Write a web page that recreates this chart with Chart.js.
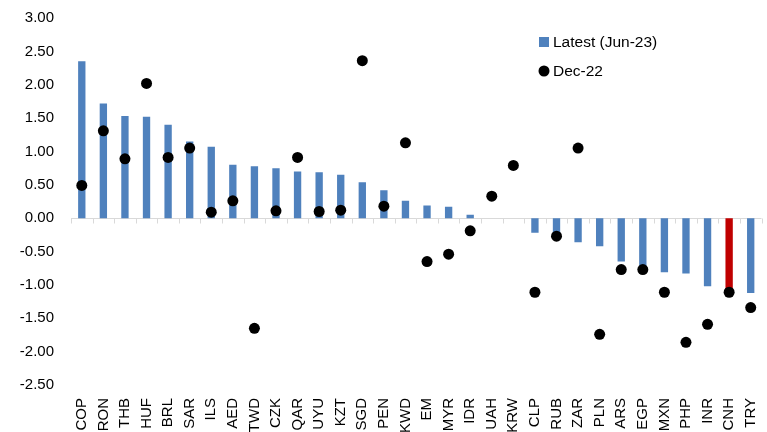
<!DOCTYPE html>
<html>
<head>
<meta charset="utf-8">
<script src="https://cdn.jsdelivr.net/npm/chart.js@4/dist/chart.umd.min.js"></script>
<style>
  html, body { margin: 0; padding: 0; background: #ffffff; }
  #wrap { width: 767px; height: 432px; position: relative; }
</style>
</head>
<body>
<div id="wrap"><canvas id="chart"></canvas></div>
<script>
// Currencies, ordered by the latest reading
const categories = ['COP', 'RON', 'THB', 'HUF', 'BRL', 'SAR', 'ILS', 'AED', 'TWD', 'CZK', 'QAR', 'UYU', 'KZT', 'SGD', 'PEN', 'KWD',
  'EM', 'MYR', 'IDR', 'UAH', 'KRW', 'CLP', 'RUB', 'ZAR', 'PLN', 'ARS', 'EGP', 'MXN', 'PHP', 'INR', 'CNH', 'TRY'];

// Latest (Jun-23)
const latest = [2.35, 1.72, 1.53, 1.52, 1.40, 1.15, 1.07, 0.80, 0.78, 0.75, 0.70, 0.69, 0.65, 0.54, 0.42, 0.26,
  0.19, 0.17, 0.05, 0.00, 0.00, -0.22, -0.24, -0.36, -0.42, -0.65, -0.72, -0.81, -0.83, -1.02, -1.06, -1.12];

// Dec-22
const dec22 = [0.49, 1.31, 0.89, 2.02, 0.91, 1.05, 0.09, 0.26, -1.65, 0.11, 0.91, 0.10, 0.12, 2.36, 0.18, 1.13,
  -0.65, -0.54, -0.19, 0.33, 0.79, -1.11, -0.27, 1.05, -1.74, -0.77, -0.77, -1.11, -1.86, -1.59, -1.11, -1.34];

const seriesNames = ['Latest (Jun-23)', 'Dec-22'];
const yTicks = { min: -2.5, max: 3.0, step: 0.5 };
const highlighted = 'CNH';

const BLUE = '#4f81bd';
const RED = '#c00000';
const FONT = "'Liberation Sans', Arial, sans-serif";

// Zero line with small tick marks between the categories
const zeroAxis = {
  id: 'zeroAxis',
  beforeDatasetsDraw(chart) {
    const { ctx, chartArea, scales: { x, y } } = chart;
    const y0 = Math.round(y.getPixelForValue(0)) + 0.5;
    const step = x.getPixelForValue(1) - x.getPixelForValue(0);
    ctx.save();
    ctx.strokeStyle = '#d9d9d9';
    ctx.lineWidth = 1;
    ctx.beginPath();
    ctx.moveTo(chartArea.left, y0);
    ctx.lineTo(chartArea.right, y0);
    for (let i = 0; i <= categories.length; i++) {
      const bx = Math.round(x.getPixelForValue(0) - step / 2 + i * step) + 0.5;
      ctx.moveTo(bx, y0);
      ctx.lineTo(bx, y0 + 5);
    }
    ctx.stroke();
    ctx.restore();
  }
};

// Legend drawn inside the plot, top right
const innerLegend = {
  id: 'innerLegend',
  afterDraw(chart) {
    const { ctx } = chart;
    const ds = chart.data.datasets;
    ctx.save();
    ctx.font = '15.5px ' + FONT;
    ctx.textBaseline = 'middle';
    ctx.fillStyle = BLUE;
    ctx.fillRect(539, 37, 10, 10);
    ctx.fillStyle = '#000';
    ctx.fillText(ds[0].label, 553, 43);
    ctx.beginPath();
    ctx.arc(544, 71, 5.5, 0, Math.PI * 2);
    ctx.fill();
    ctx.fillText(ds[1].label, 553, 72);
    ctx.restore();
  }
};

new Chart(document.getElementById('chart'), {
  type: 'bar',
  data: {
    labels: categories,
    datasets: [
      {
        label: seriesNames[0],
        data: latest,
        backgroundColor: categories.map(c => c === highlighted ? RED : BLUE),
        categoryPercentage: 1.0,
        barPercentage: 0.34,
        order: 2
      },
      {
        type: 'line',
        label: seriesNames[1],
        data: dec22,
        showLine: false,
        pointRadius: 5.5,
        pointHoverRadius: 5.5,
        pointBackgroundColor: '#000',
        pointBorderWidth: 0,
        borderColor: '#000',
        backgroundColor: '#000',
        order: 1
      }
    ]
  },
  options: {
    responsive: true,
    maintainAspectRatio: false,
    animation: false,
    layout: { padding: { top: 18, left: 20, right: 0, bottom: 0 } },
    plugins: {
      legend: { display: false },
      tooltip: { enabled: false }
    },
    scales: {
      x: {
        grid: { display: false, drawTicks: false },
        border: { display: false },
        ticks: {
          color: '#000',
          font: { family: FONT, size: 15 },
          minRotation: 90,
          maxRotation: 90,
          padding: 13,
          autoSkip: false
        },
        afterFit(scale) {
          scale.height = 47;
          scale.paddingLeft = 0;
          scale.paddingRight = 0;
        }
      },
      y: {
        min: yTicks.min,
        max: yTicks.max,
        grid: { display: false, drawTicks: false },
        border: { display: false },
        ticks: {
          stepSize: yTicks.step,
          color: '#000',
          font: { family: FONT, size: 15 },
          padding: 17,
          callback: v => Number(v).toFixed(2)
        },
        afterFit(scale) {
          scale.width = 51;
          scale.paddingTop = 0;
          scale.paddingBottom = 0;
        }
      }
    }
  },
  plugins: [zeroAxis, innerLegend]
});
</script>
</body>
</html>
